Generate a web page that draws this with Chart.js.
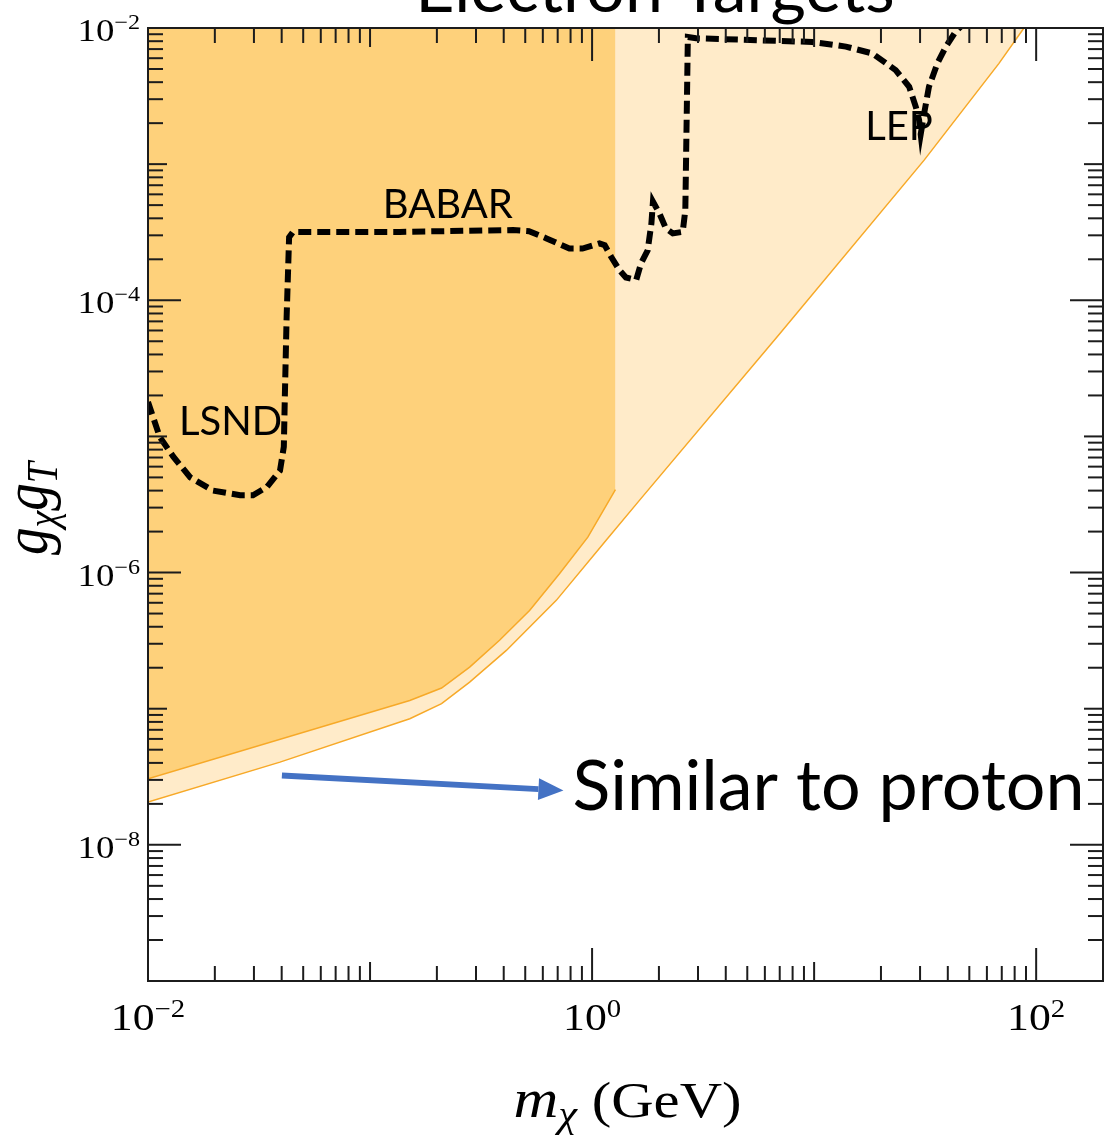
<!DOCTYPE html>
<html>
<head>
<meta charset="utf-8">
<title>Electron Targets</title>
<script src="https://cdn.jsdelivr.net/npm/chart.js@4.4.1/dist/chart.umd.min.js"></script>
<style>
  html, body { margin: 0; padding: 0; background: #fff; }
  #wrap { width: 1104px; height: 1141px; position: relative; }
</style>
</head>
<body>
<div id="wrap"><canvas id="c"></canvas></div>
<script>
// axis ranges (GeV, coupling)
const xRange = [0.01, 200];
const yRange = [1e-9, 1e-2];
// decades that get a 10^n label
const xLabelExps = [-2, 0, 2];
const yLabelExps = [-2, -4, -6, -8];

// dashed limit curve: LSND -> BABAR -> LEP
const limitMass = [0.0100, 0.0113, 0.0130, 0.0155, 0.0196, 0.0260, 0.0297, 0.0343, 0.0393, 0.0409,
  0.0413, 0.0421, 0.0432, 0.0450, 0.136, 0.44, 0.52, 0.62, 0.79, 0.905,
  1.08, 1.14, 1.22, 1.33, 1.42, 1.58, 1.66, 1.78, 1.85, 1.88,
  2.01, 2.15, 2.31, 2.56, 2.63, 2.70, 2.94, 9.8, 13.9, 18.3,
  23.3, 26.8, 28.7, 29.7, 30.2, 31.3, 32.9, 35.9, 39.2, 43.4, 46.5];
const limitCoupling = [1.79e-5, 9.9e-6, 7.1e-6, 5.0e-6, 4.0e-6, 3.7e-6, 3.7e-6, 4.25e-6, 5.6e-6, 8.4e-6,
  1.85e-5, 7.5e-5, 2.9e-4, 3.18e-4, 3.18e-4, 3.28e-4, 3.22e-4, 2.86e-4, 2.40e-4, 2.40e-4,
  2.62e-4, 2.54e-4, 2.08e-4, 1.66e-4, 1.47e-4, 1.41e-4, 1.86e-4, 2.33e-4, 3.67e-4, 5.3e-4,
  4.35e-4, 3.37e-4, 3.1e-4, 3.18e-4, 4.6e-4, 8.6e-3, 8.4e-3, 7.9e-3, 7.3e-3, 6.5e-3,
  4.9e-3, 3.7e-3, 2.64e-3, 2.11e-3, 1.66e-3, 2.36e-3, 3.7e-3, 5.5e-3, 7.3e-3, 9.4e-3, 1.05e-2];

// light band, lower edge
const lightMass = [0.01, 0.0393, 0.151, 0.210, 0.281, 0.411, 0.690, 1.157, 1.634, 6.97, 31.3, 68.0, 88.1];
const lightCoupling = [2.06e-8, 4.05e-8, 8.44e-8, 1.09e-7, 1.57e-7, 2.68e-7, 6.25e-7, 1.73e-6, 3.39e-6, 5.64e-5, 1.07e-3, 5.5e-3, 1.0e-2];

// dark band, lower edge (ends with a vertical cut)
const darkMass = [0.01, 0.151, 0.210, 0.281, 0.383, 0.523, 0.713, 0.957, 1.274, 1.274];
const darkCoupling = [3.06e-8, 1.15e-7, 1.42e-7, 2.02e-7, 3.18e-7, 5.27e-7, 9.81e-7, 1.82e-6, 4.07e-6, 1e-2];

// text labels placed in data coordinates (left edge, baseline)
const notes = [
  { text: 'LSND', x: 0.01378, y: 1.02e-5, size: 40 },
  { text: 'BABAR', x: 0.114, y: 4.01e-4, size: 40 },
  { text: 'LEP', x: 16.98, y: 1.50e-3, size: 40 },
  { text: 'Similar to proton', x: 0.816, y: 1.79e-8, size: 70 }
];
const arrowFrom = [0.0401, 3.23e-8];
const arrowTo = [0.743, 2.51e-8];

const orangeEdge = '#F7A928';
const darkFill = '#FED17B';
const lightFill = '#FFEBC9';
const ink = '#1c1c1c';

function pts(xs, ys) {
  return xs.map((v, i) => ({ x: v, y: ys[i] }));
}

function drawPow(ctx, exp, x, baseline, size, supSize, raise, align, sx) {
  const sup = exp < 0 ? '\u2212' + Math.abs(exp) : String(exp);
  ctx.font = size + 'px "Liberation Serif"';
  const w1 = ctx.measureText('10').width;
  ctx.font = supSize + 'px "Liberation Serif"';
  const w2 = ctx.measureText(sup).width;
  const total = (w1 + w2) * sx;
  const start = align === 'center' ? x - total / 2 : x - total;
  ctx.save();
  ctx.translate(start, baseline);
  ctx.scale(sx, 1);
  ctx.textAlign = 'left';
  ctx.textBaseline = 'alphabetic';
  ctx.font = size + 'px "Liberation Serif"';
  ctx.fillText('10', 0, 0);
  ctx.font = supSize + 'px "Liberation Serif"';
  ctx.fillText(sup, w1, -raise);
  ctx.restore();
}

function drawParts(ctx, parts) {
  let w = 0;
  parts.forEach(p => { ctx.font = p.font; p.w = ctx.measureText(p.t).width; w += p.w; });
  let cx = -w / 2;
  parts.forEach(p => { ctx.font = p.font; ctx.fillText(p.t, cx, p.dy || 0); cx += p.w; });
}

const frame = {
  id: 'frame',
  afterDatasetsDraw(chart) {
    const { ctx, chartArea: a, scales: { x, y } } = chart;
    ctx.save();
    ctx.strokeStyle = ink;
    ctx.lineWidth = 2;
    const seg = (x1, y1, x2, y2) => { ctx.beginPath(); ctx.moveTo(x1, y1); ctx.lineTo(x2, y2); ctx.stroke(); };
    for (let d = -3; d <= 2; d++) {
      for (let m = 1; m <= 9; m++) {
        const v = m * Math.pow(10, d);
        if (v < xRange[0] * 0.999 || v > xRange[1] * 1.001) continue;
        const len = m > 1 ? 15 : (xLabelExps.includes(d) ? 33 : 19);
        const px = x.getPixelForValue(v);
        seg(px, a.bottom, px, a.bottom - len);
        seg(px, a.top, px, a.top + len);
      }
    }
    for (let d = -9; d <= -2; d++) {
      for (let m = 1; m <= 9; m++) {
        const v = m * Math.pow(10, d);
        if (v < yRange[0] * 0.999 || v > yRange[1] * 1.001) continue;
        const len = m > 1 ? 15 : (yLabelExps.includes(d) ? 33 : 19);
        const py = y.getPixelForValue(v);
        seg(a.left, py, a.left + len, py);
        seg(a.right, py, a.right - len, py);
      }
    }
    ctx.strokeRect(a.left, a.top, a.right - a.left, a.bottom - a.top);
    ctx.restore();
  },
  afterDraw(chart) {
    const { ctx, chartArea: a, scales: { x, y } } = chart;
    ctx.save();
    ctx.fillStyle = '#000';

    // tick labels
    xLabelExps.forEach(e => drawPow(ctx, e, x.getPixelForValue(Math.pow(10, e)), a.bottom + 49, 38, 25, 13, 'center', 1.15));
    yLabelExps.forEach(e => drawPow(ctx, e, a.left - 8, y.getPixelForValue(Math.pow(10, e)) + 13, 32, 21, 12, 'right', 1.15));

    // x axis title
    ctx.save();
    ctx.translate((a.left + a.right) / 2 + 2, a.bottom + 136);
    ctx.scale(1.15, 1);
    ctx.textAlign = 'left';
    drawParts(ctx, [
      { t: 'm', font: 'italic 54px "Liberation Serif"' },
      { t: '\u03c7', font: 'italic 37px "Liberation Serif"', dy: 10 },
      { t: ' (GeV)', font: '51px "Liberation Serif"' }
    ]);
    ctx.restore();

    // y axis title
    ctx.save();
    ctx.translate(47, (a.top + a.bottom) / 2 + 4);
    ctx.scale(1.15, 1);
    ctx.rotate(-Math.PI / 2);
    ctx.textAlign = 'left';
    drawParts(ctx, [
      { t: 'g', font: 'italic 55px "Liberation Serif"' },
      { t: '\u03c7', font: 'italic 38px "Liberation Serif"', dy: 9 },
      { t: 'g', font: 'italic 55px "Liberation Serif"' },
      { t: 'T', font: 'italic 38px "Liberation Serif"', dy: 9 }
    ]);
    ctx.restore();

    // annotations
    ctx.textAlign = 'left';
    ctx.textBaseline = 'alphabetic';
    notes.forEach(n => {
      ctx.font = n.size + 'px Lato';
      ctx.fillText(n.text, x.getPixelForValue(n.x), y.getPixelForValue(n.y));
    });

    // blue arrow
    const x0 = x.getPixelForValue(arrowFrom[0]), y0 = y.getPixelForValue(arrowFrom[1]);
    const x1 = x.getPixelForValue(arrowTo[0]), y1 = y.getPixelForValue(arrowTo[1]);
    const ang = Math.atan2(y1 - y0, x1 - x0);
    const head = 25, half = 11;
    const bx = x1 - head * Math.cos(ang), by = y1 - head * Math.sin(ang);
    ctx.strokeStyle = '#4472C4';
    ctx.fillStyle = '#4472C4';
    ctx.lineWidth = 6;
    ctx.beginPath(); ctx.moveTo(x0, y0); ctx.lineTo(bx, by); ctx.stroke();
    ctx.beginPath();
    ctx.moveTo(x1, y1);
    ctx.lineTo(bx + half * Math.sin(ang), by - half * Math.cos(ang));
    ctx.lineTo(bx - half * Math.sin(ang), by + half * Math.cos(ang));
    ctx.closePath();
    ctx.fill();

    // slide title, cut off at the top edge
    ctx.fillStyle = '#000';
    ctx.font = '68px Lato';
    ctx.textAlign = 'center';
    ctx.fillText('Electron Targets', 655, 12);
    ctx.restore();
  }
};

new Chart(document.getElementById('c'), {
  type: 'line',
  data: {
    datasets: [
      {
        label: 'Limit',
        data: pts(limitMass, limitCoupling),
        borderColor: '#000',
        borderWidth: 6,
        borderDash: [13, 6],
        fill: false,
        clip: 0,
        order: 0
      },
      {
        label: 'Dark band',
        data: pts(darkMass, darkCoupling),
        borderColor: orangeEdge,
        borderWidth: 1.5,
        backgroundColor: darkFill,
        fill: 'end',
        segment: {
          borderColor: c => c.p1DataIndex === darkMass.length - 1 ? 'rgba(0,0,0,0)' : orangeEdge
        },
        order: 1
      },
      {
        label: 'Light band',
        data: pts(lightMass, lightCoupling),
        borderColor: orangeEdge,
        borderWidth: 1.5,
        backgroundColor: lightFill,
        fill: 'end',
        order: 2
      }
    ]
  },
  options: {
    responsive: true,
    maintainAspectRatio: false,
    animation: false,
    layout: { padding: { left: 148, right: 1, top: 28, bottom: 160 } },
    elements: { point: { radius: 0 }, line: { tension: 0 } },
    plugins: {
      legend: { display: false },
      tooltip: { enabled: false },
      title: { display: false }
    },
    scales: {
      x: { type: 'logarithmic', min: xRange[0], max: xRange[1], display: false },
      y: { type: 'logarithmic', min: yRange[0], max: yRange[1], display: false }
    }
  },
  plugins: [frame]
});
</script>
</body>
</html>
